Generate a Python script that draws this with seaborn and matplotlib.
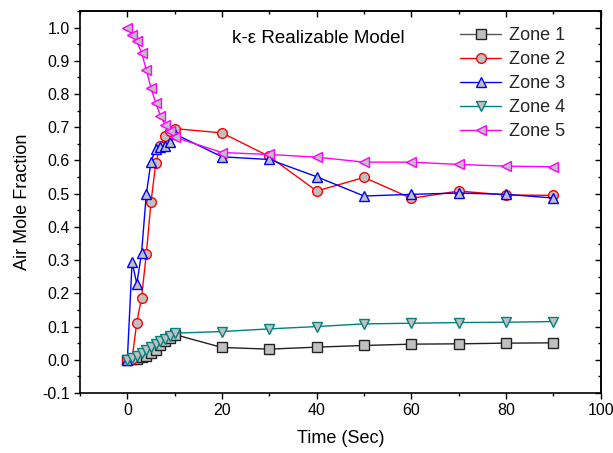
import matplotlib
matplotlib.use("Agg")
import matplotlib.pyplot as plt
import seaborn as sns
import numpy as np
import pandas as pd
from matplotlib.ticker import MultipleLocator

time = [0, 1, 2, 3, 4, 5, 6, 7, 8, 9, 10, 20, 30, 40, 50, 60, 70, 80, 90]
zone1 = [0.0, 0.001, 0.003, 0.007, 0.012, 0.020, 0.030, 0.045, 0.055, 0.065, 0.076,
         0.037, 0.032, 0.038, 0.043, 0.047, 0.048, 0.050, 0.051]
zone2 = [0.0, 0.003, 0.112, 0.187, 0.317, 0.475, 0.591, 0.645, 0.673, 0.688, 0.696,
         0.683, 0.612, 0.508, 0.549, 0.486, 0.508, 0.496, 0.495]
zone3 = [0.0, 0.294, 0.229, 0.320, 0.498, 0.596, 0.636, 0.641, 0.645, 0.656, 0.680,
         0.611, 0.603, 0.551, 0.493, 0.498, 0.502, 0.498, 0.487]
zone4 = [0.0, 0.006, 0.012, 0.020, 0.028, 0.038, 0.048, 0.056, 0.064, 0.072, 0.080,
         0.085, 0.093, 0.100, 0.108, 0.110, 0.112, 0.113, 0.115]
zone5 = [1.0, 0.977, 0.959, 0.925, 0.873, 0.818, 0.773, 0.735, 0.706, 0.690, 0.670,
         0.624, 0.618, 0.610, 0.595, 0.595, 0.588, 0.583, 0.581]

labels = ["Zone 1", "Zone 2", "Zone 3", "Zone 4", "Zone 5"]
series = [zone1, zone2, zone3, zone4, zone5]

sns.set_theme(style="white")
plt.rcParams["font.family"] = ["Liberation Sans", "DejaVu Sans"]

fig = plt.figure(figsize=(6.13, 4.53), dpi=100)
ax = fig.add_axes([0.1305, 0.1325, 0.8495, 0.8432])

line_colors = ["#222222", "#ff0000", "#0000ff", "#008080", "#ff00ff"]
edge_colors = ["#222222", "#ff0000", "#0000ff", "#008080", "#ff00ff"]
markers = ["s", "o", "^", "v", "<"]

for lab, vals, lc, ec, mk in zip(labels, series, line_colors, edge_colors, markers):
    sns.lineplot(x=time, y=vals, ax=ax, color=lc, marker=mk, markersize=7,
                 markerfacecolor="#c0c0c0", markeredgecolor=ec, markeredgewidth=1.0,
                 linewidth=1.0, label=lab, sort=False)

ax.set_xlim(-10, 100)
ax.set_ylim(-0.1, 1.05)
ax.xaxis.set_major_locator(MultipleLocator(20))
ax.xaxis.set_minor_locator(MultipleLocator(10))
ax.yaxis.set_minor_locator(MultipleLocator(0.05))
yt = np.round(np.arange(-0.1, 1.01, 0.1), 2)
ax.set_yticks(yt)
ax.set_yticklabels([f"{v:.1f}" for v in yt])

for s in ax.spines.values():
    s.set_color("black")
    s.set_linewidth(1.2)

ax.tick_params(which="both", direction="out", bottom=True, left=True, top=False, right=False,
               colors="black", labelsize=11.5)
ax.tick_params(which="major", length=4, width=1.0)
ax.tick_params(which="minor", length=2.5, width=1.0)

secx = ax.secondary_xaxis("top")
secx.xaxis.set_major_locator(MultipleLocator(20))
secx.xaxis.set_minor_locator(MultipleLocator(10))
secx.tick_params(which="both", direction="in", labeltop=False, colors="black")
secx.tick_params(which="major", length=4, width=1.0)
secx.tick_params(which="minor", length=2.5, width=1.0)

secy = ax.secondary_yaxis("right")
secy.yaxis.set_major_locator(MultipleLocator(0.1))
secy.yaxis.set_minor_locator(MultipleLocator(0.05))
secy.tick_params(which="both", direction="in", labelright=False, colors="black")
secy.tick_params(which="major", length=4, width=1.0)
secy.tick_params(which="minor", length=2.5, width=1.0)

ax.set_xlabel("Time (Sec)", fontsize=13, color="black", labelpad=8)
ax.set_ylabel("Air Mole Fraction", fontsize=13, color="black", labelpad=8)

ax.text(0.292, 0.928, "k-\u03b5 Realizable Model", transform=ax.transAxes,
        fontsize=13.5, color="black", ha="left", va="center")

leg = ax.legend(loc="upper right", frameon=False, fontsize=13, handlelength=2.3,
                handletextpad=0.4, labelspacing=0.38, borderaxespad=0.3,
                bbox_to_anchor=(0.955, 0.99))
leg.get_lines()[0].set_color("#555555")
leg.get_lines()[0].set_markeredgecolor("#222222")

fig.savefig("out.png", dpi=100)
